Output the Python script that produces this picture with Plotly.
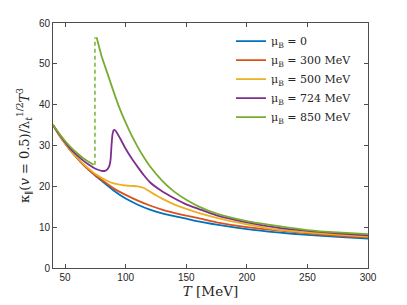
import plotly.graph_objects as go

# ---- data ----
T_mu0 = [40, 45, 50, 55, 60, 65, 70, 75, 80, 90, 100, 110, 120, 130, 140, 150, 160, 175, 200, 225, 250, 275, 300]
K_mu0 = [35.0, 32.6, 30.5, 28.6, 26.9, 25.3, 23.9, 22.6, 21.4, 19.0, 17.0, 15.5, 14.3, 13.4, 12.7, 12.1, 11.4, 10.6, 9.5, 8.7, 8.1, 7.6, 7.2]

T_mu300 = [40, 45, 50, 55, 60, 65, 70, 75, 80, 90, 100, 110, 120, 130, 140, 150, 160, 175, 200, 225, 250, 275, 300]
K_mu300 = [35.0, 32.6, 30.5, 28.6, 26.9, 25.3, 23.9, 22.7, 21.6, 19.5, 17.9, 16.5, 15.3, 14.3, 13.5, 12.8, 12.2, 11.2, 10.0, 9.2, 8.5, 7.9, 7.5]

T_mu500 = [40, 45, 50, 55, 60, 65, 70, 75, 80, 85, 90, 95, 100, 105, 110, 115, 120, 125, 130, 140, 150, 160, 175, 200, 225, 250, 275, 300]
K_mu500 = [35.0, 32.6, 30.5, 28.7, 27.0, 25.5, 24.2, 23.0, 22.1, 21.3, 20.7, 20.4, 20.2, 20.1, 20.0, 19.6, 18.7, 17.8, 17.0, 15.6, 14.5, 13.5, 12.3, 10.7, 9.4, 8.7, 8.2, 7.7]

T_mu724 = [40, 45, 50, 55, 60, 65, 70, 75, 80, 83, 85, 86.5, 87.5, 88.3, 89, 90, 91, 93, 96, 100, 105, 110, 115, 120, 130, 140, 150, 160, 175, 200, 225, 250, 275, 300]
K_mu724 = [35.0, 32.8, 30.8, 29.0, 27.6, 26.3, 25.2, 24.3, 23.8, 23.8, 24.2, 25.0, 26.5, 30.0, 32.5, 33.7, 33.8, 33.0, 31.4, 29.2, 26.8, 24.7, 22.7, 21.0, 18.8, 17.1, 15.6, 14.5, 12.9, 11.2, 9.9, 9.1, 8.5, 8.0]

T_mu850_low = [40, 45, 50, 55, 60, 65, 70, 73.5]
K_mu850_low = [35.0, 33.0, 31.1, 29.5, 28.1, 26.9, 25.9, 25.3]
T_mu850_high = [76, 80, 85, 90, 95, 100, 105, 110, 115, 120, 130, 140, 150, 160, 175, 200, 225, 250, 275, 300]
K_mu850_high = [56.5, 52.0, 47.6, 43.2, 39.1, 35.6, 32.4, 29.6, 27.1, 24.9, 21.4, 18.7, 16.7, 15.1, 13.3, 11.5, 10.3, 9.3, 8.7, 8.3]
T_jump = [74.6, 74.6]
K_jump = [25.3, 56.5]

labels = ["μ<sub>B</sub> = 0", "μ<sub>B</sub> = 300 MeV", "μ<sub>B</sub> = 500 MeV",
          "μ<sub>B</sub> = 724 MeV", "μ<sub>B</sub> = 850 MeV"]
colors = ["#0072BD", "#D95319", "#EDB120", "#7E2F8E", "#77AC30"]

x_ticks = [50, 100, 150, 200, 250, 300]
y_ticks = [0, 10, 20, 30, 40, 50, 60]

fig = go.Figure()
series = [(T_mu0, K_mu0), (T_mu300, K_mu300), (T_mu500, K_mu500), (T_mu724, K_mu724)]
for (t, k), lab, c in zip(series, labels[:4], colors[:4]):
    fig.add_trace(go.Scatter(x=t, y=k, mode="lines", name=lab,
                             line=dict(color=c, width=1.8, shape="spline", smoothing=0.5)))

fig.add_trace(go.Scatter(x=T_mu850_low + [None] + T_mu850_high,
                         y=K_mu850_low + [None] + K_mu850_high,
                         mode="lines", name=labels[4], connectgaps=False,
                         line=dict(color=colors[4], width=1.8, shape="spline", smoothing=0.5)))
fig.add_trace(go.Scatter(x=T_jump, y=K_jump, mode="lines", showlegend=False,
                         line=dict(color="#8CC152", width=1.8, dash="4px,3px")))

axis_common = dict(showgrid=False, zeroline=False, showline=True, mirror="ticks",
                   linecolor="#4d4d4d", linewidth=0.8, ticks="inside", ticklen=4,
                   tickcolor="#4d4d4d", tickwidth=0.8, automargin=False,
                   tickfont=dict(family="Liberation Sans Narrow, Liberation Sans, Arial",
                                 size=10, color="#262626"))

fig.update_xaxes(range=[40, 300], tickvals=x_ticks,
                 title=dict(text="<i>T</i> [MeV]", standoff=2,
                            font=dict(family="DejaVu Serif", size=13.5, color="#262626")),
                 **axis_common)
fig.update_yaxes(range=[0, 60], tickvals=y_ticks,
                 title=dict(text="κ<sub>∥</sub>(<i>v</i> = 0.5)/λ<sub><i>t</i></sub><sup>1/2</sup><i>T</i><sup>3</sup>",
                            standoff=6,
                            font=dict(family="DejaVu Serif", size=13, color="#262626")),
                 **axis_common)

fig.update_layout(
    width=407, height=305,
    margin=dict(l=53, r=39, t=23, b=37),
    paper_bgcolor="white", plot_bgcolor="white",
    legend=dict(x=0.565, y=0.985, xanchor="left", yanchor="top",
                bgcolor="rgba(255,255,255,0)", borderwidth=0,
                font=dict(family="DejaVu Serif", size=11, color="#262626"),
                itemwidth=30, tracegroupgap=0),
)

fig.write_html("out.html", config={"displayModeBar": False},
               post_script="document.body.style.margin='0px';")
